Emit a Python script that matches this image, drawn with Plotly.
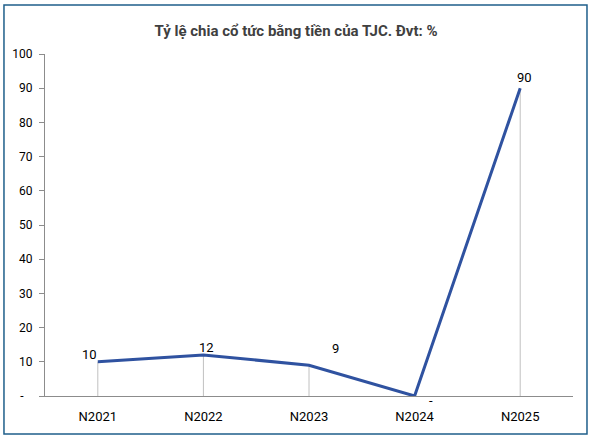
import plotly.graph_objects as go

nam = ['N2021', 'N2022', 'N2023', 'N2024', 'N2025']
ty_le = [10, 12, 9, 0, 90]
nhan = ['10', '12', '9', '-', '90']
y_ticks = [0, 10, 20, 30, 40, 50, 60, 70, 80, 90, 100]
y_ticktext = ['-\u00a0\u00a0\u00a0'] + [str(v) for v in y_ticks[1:]]

# do lech cua nhan so lieu so voi diem (px)
lech_x = [-8, 3, 26, 16, 4]
lech_y = [7, 7, 17, -4, 11]

font_hep = 'Roboto, Liberation Sans, sans-serif'

# duong giong tu diem xuong truc hoanh
gx, gy = [], []
for n, v in zip(nam, ty_le):
    gx += [n, n, None]
    gy += [0, v, None]

fig = go.Figure()
fig.add_trace(go.Scatter(x=gx, y=gy, mode='lines',
                         line=dict(color='#c0c0c0', width=1),
                         hoverinfo='skip', showlegend=False))
fig.add_trace(go.Scatter(x=nam, y=ty_le, mode='lines',
                         line=dict(color='#2f52a0', width=3),
                         showlegend=False, cliponaxis=False))

for n, v, t, dx, dy in zip(nam, ty_le, nhan, lech_x, lech_y):
    fig.add_annotation(x=n, y=v, text=t, showarrow=False,
                       xshift=dx, yshift=dy,
                       font=dict(family=font_hep, size=13, color='#000000'))

fig.update_layout(
    width=592, height=441,
    margin=dict(l=45, r=19, t=54, b=45, autoexpand=False),
    paper_bgcolor='white', plot_bgcolor='white',
    title=dict(text='<b>Tỷ lệ chia cổ tức bằng tiền của TJC. Đvt: %</b>',
               x=0.5, xanchor='center', y=0.93, yanchor='middle',
               font=dict(family=font_hep, size=15, color='#404040')),
    font=dict(family=font_hep, size=12, color='#000000'),
    shapes=[dict(type='rect', xref='paper', yref='paper',
                 x0=-0.0777, x1=1.0265, y0=-0.111, y1=1.143,
                 line=dict(color='#1f5f8b', width=1.5))],
)
fig.update_xaxes(type='category', range=[-0.5, 4.5], showgrid=False,
                 showline=True, linecolor='#8c8c8c', linewidth=1,
                 ticks='', tickfont=dict(size=13, color='#000000'),
                 ticklabelstandoff=8, automargin=False)
fig.update_yaxes(range=[0, 100], tickvals=y_ticks, ticktext=y_ticktext,
                 showgrid=False, zeroline=False, showline=True,
                 linecolor='#8c8c8c', linewidth=1, ticks='outside',
                 ticklen=5, tickcolor='#8c8c8c', ticklabelstandoff=4,
                 tickfont=dict(size=12, color='#000000'), automargin=False)

fig.write_html('out.html', config={'displayModeBar': False},
               post_script="document.body.style.margin='0';")
